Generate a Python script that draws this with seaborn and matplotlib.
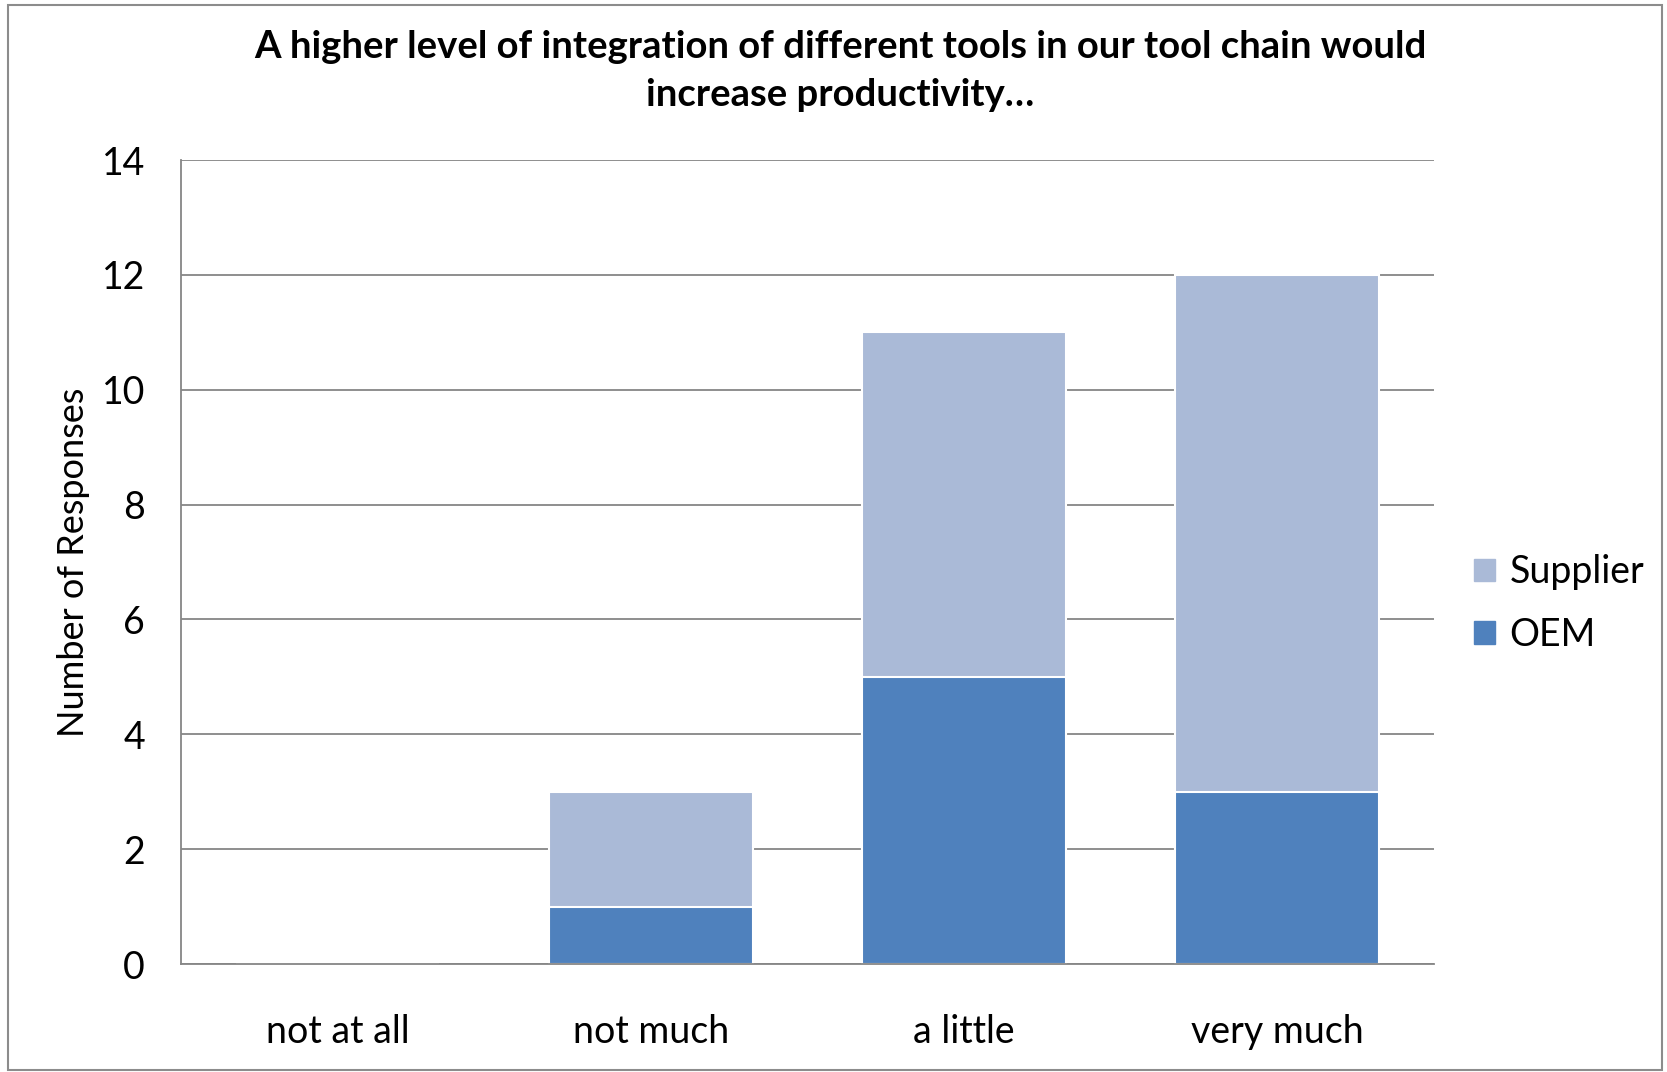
import pandas as pd
import matplotlib
matplotlib.use("Agg")
import matplotlib.pyplot as plt
import seaborn as sns
from matplotlib.patches import Patch, Rectangle

# data
categories = ["not at all", "not much", "a little", "very much"]
oem = [0, 1, 5, 3]
supplier = [0, 2, 6, 9]
total = [o + s for o, s in zip(oem, supplier)]

data = pd.DataFrame({"Category": categories, "OEM": oem, "Supplier": supplier, "Total": total})

sns.set_style("white")
plt.rcParams["font.family"] = ["Lato", "DejaVu Sans"]
plt.rcParams["text.color"] = "black"
plt.rcParams["axes.labelcolor"] = "black"
plt.rcParams["xtick.color"] = "black"
plt.rcParams["ytick.color"] = "black"

c_oem = "#4F81BD"
c_sup = "#AABAD7"

fig = plt.figure(figsize=(16.67, 10.72), dpi=100)
ax = fig.add_axes([0.1086, 0.1007, 0.7515, 0.75])

# stacked: totals first, OEM drawn over the bottom part
sns.barplot(x="Category", y="Total", data=data, color=c_sup, width=0.65, saturation=1,
            edgecolor="white", linewidth=1.5, ax=ax, zorder=3)
sns.barplot(x="Category", y="OEM", data=data, color=c_oem, width=0.65, saturation=1,
            edgecolor="white", linewidth=1.5, ax=ax, zorder=3)

ax.set_xlim(-0.5, 3.5)
ax.set_ylim(0, 14)
ax.set_yticks(range(0, 15, 2))
ax.yaxis.grid(True, color="#868686", linewidth=1.3, zorder=0)
ax.set_axisbelow(True)
ax.set_xlabel("")
ax.set_ylabel("Number of Responses", fontsize=26, labelpad=8)
ax.tick_params(axis="y", labelsize=27, pad=26, length=0)
ax.tick_params(axis="x", labelsize=27, pad=36, length=0)

for side in ["top", "right"]:
    ax.spines[side].set_visible(False)
for side in ["left", "bottom"]:
    ax.spines[side].set_color("#868686")
    ax.spines[side].set_linewidth(1.3)
    ax.spines[side].set_zorder(5)

fig.text(0.504, 0.972, "A higher level of integration of different tools in our tool chain would\nincrease productivity\u2026",
         ha="center", va="top", fontsize=27.5, fontweight="bold", linespacing=1.5)

handles = [Patch(color=c_sup, label="Supplier"), Patch(color=c_oem, label="OEM")]
fig.legend(handles=handles, loc="center left", bbox_to_anchor=(0.864, 0.437), frameon=False,
           fontsize=27, handlelength=0.55, handleheight=0.55, handletextpad=0.4, labelspacing=0.7)

# outer chart frame
fig.patches.append(Rectangle((0.005, 0.002), 0.992, 0.993, transform=fig.transFigure,
                             fill=False, edgecolor="#8c8c8c", linewidth=1.5))

plt.savefig("out.png", dpi=100)
